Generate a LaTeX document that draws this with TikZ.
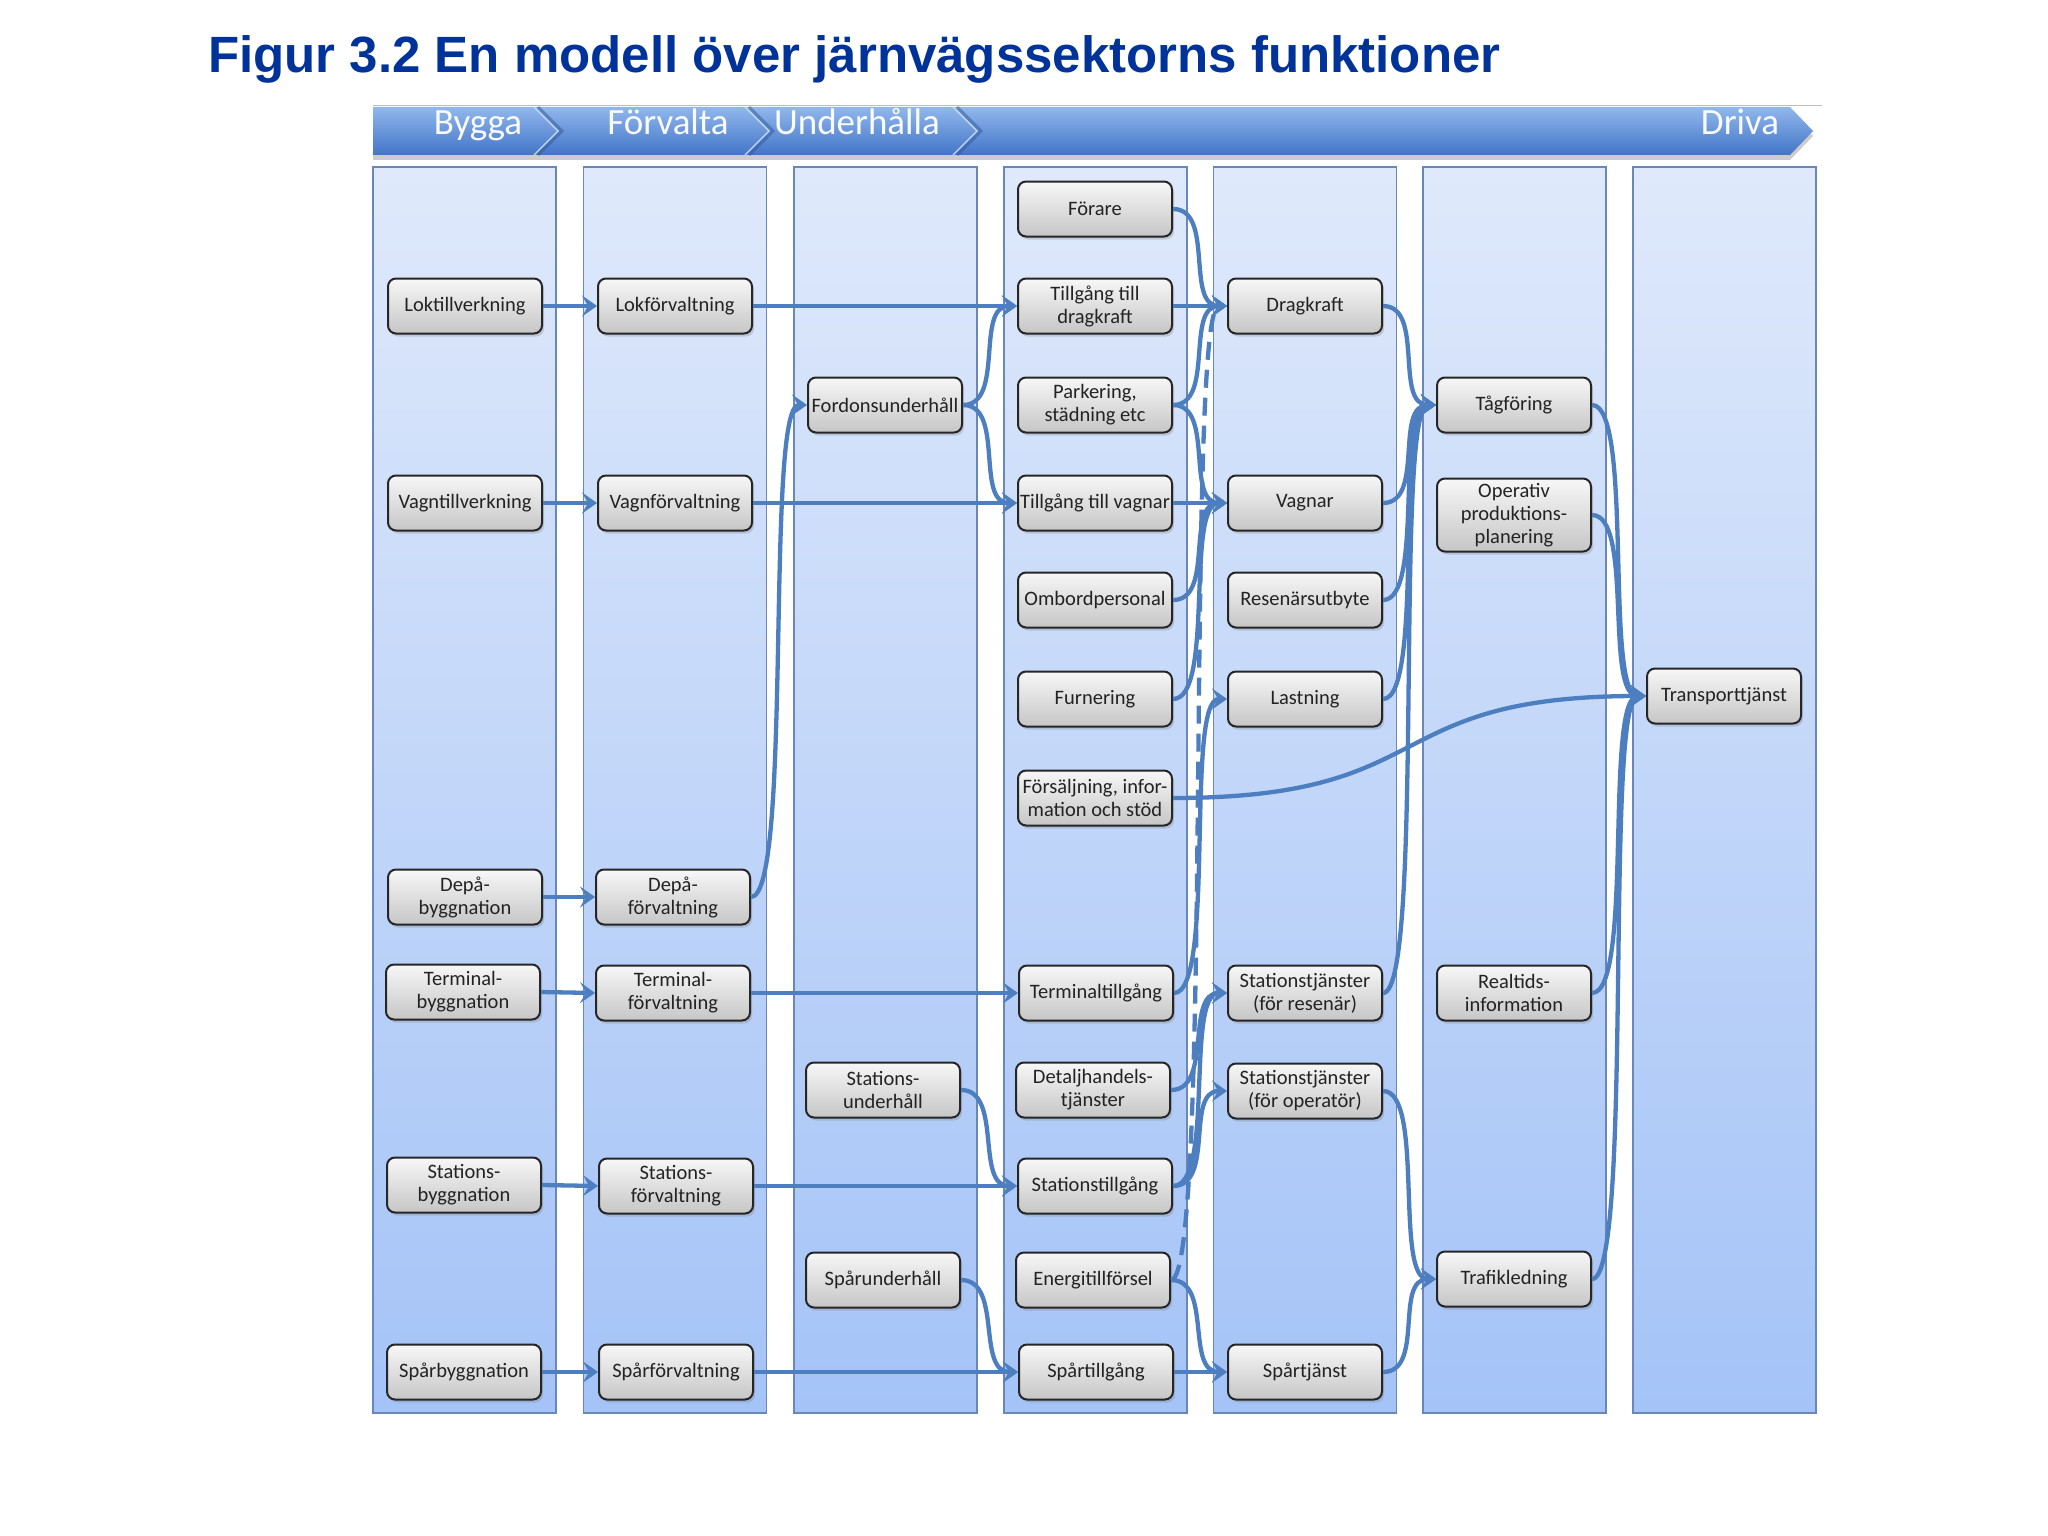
\documentclass[tikz,border=0pt]{standalone}
\usepackage{fontspec}
\setmainfont{Carlito}
\newfontfamily\titlefont{Liberation Sans}
\usetikzlibrary{arrows.meta,shadows}
\definecolor{flowblue}{RGB}{76,126,192}
\definecolor{titleblue}{RGB}{0,51,153}
\definecolor{coltop}{RGB}{223,233,251}
\definecolor{colbot}{RGB}{164,195,247}
\definecolor{colline}{RGB}{105,135,185}
\definecolor{headtop}{RGB}{145,183,236}
\definecolor{headbot}{RGB}{66,116,200}
\definecolor{boxtop}{RGB}{247,247,247}
\definecolor{boxbot}{RGB}{198,198,198}
\definecolor{boxtext}{RGB}{35,35,35}

\begin{document}
\begin{tikzpicture}[x=1pt, y=-1pt]
	\tikzstyle{every node} = [font=\fontsize{20.5}{23}\selectfont]
	\tikzstyle{box} = [rectangle, rounded corners=8pt, draw=black!85, line width=2pt, top color=boxtop, bottom color=boxbot, minimum width=154pt, minimum height=55pt, align=center, inner sep=2pt, text=boxtext, drop shadow={opacity=0.3, shadow xshift=2pt, shadow yshift=-3pt}]
	\tikzstyle{flow} = [draw=flowblue, line width=4.3pt, -{Stealth[length=15pt,width=21pt,inset=6pt]}]
	\tikzstyle{wave} = [out=0, in=180, distance=42pt]
	\tikzstyle{phase} = [text=white!95!headtop, font=\fontsize{37}{40}\selectfont, anchor=base, inner sep=0pt]
	\fill[white] (0,0) rectangle (2048,1536);
	\useasboundingbox (0,0) rectangle (2048,1536);
	\node[anchor=base west, inner sep=0pt, text=titleblue, font=\titlefont\bfseries\fontsize{51}{56}\selectfont] (title) at (208,73) {Figur 3.2 En modell över järnvägssektorns funktioner};
	\draw[black!25, line width=1pt] (373,106) -- (1822,106);
	\path[top color=headtop, bottom color=headbot, drop shadow={opacity=0.4, shadow xshift=0pt, shadow yshift=-5pt}] (373,107) -- (1790,107) -- (1813,131) -- (1790,155) -- (373,155) -- cycle;
	\foreach \x in {534,745,953} {
		\draw[headbot!75!black, line width=3pt, opacity=0.5] (\x+4,107) -- (\x+28,131) -- (\x+4,155);
		\draw[headtop!50!white, line width=1.2pt] (\x,107) -- (\x+24,131) -- (\x,155);
	}
	\node[phase] (bygga)    at (478,135)  {Bygga};
	\node[phase] (forvalta) at (668,135)  {Förvalta};
	\node[phase] (underh)   at (857,135)  {Underhålla};
	\node[phase] (driva)    at (1740,135) {Driva};
	\foreach \x in {373,583.5,794,1004,1213.5,1423,1633}
		\path[top color=coltop, bottom color=colbot, draw=colline, line width=1.2pt] (\x,167) rectangle +(183,1246);
	\node[box] (lokbygg)  at (465,306)  {Loktillverkning};
	\node[box] (vagnbygg) at (465,503)  {Vagntillverkning};
	\node[box] (depabygg) at (465,897)  {Depå-\\byggnation};
	\node[box] (termbygg) at (463,992)  {Terminal-\\byggnation};
	\node[box] (statbygg) at (464,1185) {Stations-\\byggnation};
	\node[box] (sparbygg) at (464,1372) {Spårbyggnation};
	\node[box] (lokforv)  at (675,306)  {Lokförvaltning};
	\node[box] (vagnforv) at (675,503)  {Vagnförvaltning};
	\node[box] (depaforv) at (673,897)  {Depå-\\förvaltning};
	\node[box] (termforv) at (673,993)  {Terminal-\\förvaltning};
	\node[box] (statforv) at (676,1186) {Stations-\\förvaltning};
	\node[box] (sparforv) at (676,1372) {Spårförvaltning};
	\node[box] (fordund)  at (885,405)  {Fordonsunderhåll};
	\node[box] (statund)  at (883,1090) {Stations-\\underhåll};
	\node[box] (sparund)  at (883,1280) {Spårunderhåll};
	\node[box] (forare)   at (1095,209) {Förare};
	\node[box] (tdrag)    at (1095,306) {Tillgång till\\dragkraft};
	\node[box] (park)     at (1095,405) {Parkering,\\städning etc};
	\node[box] (tvagn)    at (1095,503) {Tillgång till vagnar};
	\node[box] (ombord)   at (1095,600) {Ombordpersonal};
	\node[box] (furn)     at (1095,699) {Furnering};
	\node[box] (fors)     at (1095,798) {Försäljning, infor-\\mation och stöd};
	\node[box] (termt)    at (1096,993) {Terminaltillgång};
	\node[box] (detalj)   at (1093,1090) {Detaljhandels-\\tjänster};
	\node[box] (statt)    at (1095,1186) {Stationstillgång};
	\node[box] (energi)   at (1093,1280) {Energitillförsel};
	\node[box] (spart)    at (1096,1372) {Spårtillgång};
	\node[box] (drag)     at (1305,306) {Dragkraft};
	\node[box] (vagnar)   at (1305,503) {Vagnar};
	\node[box] (resen)    at (1305,600) {Resenärsutbyte};
	\node[box] (last)     at (1305,699) {Lastning};
	\node[box] (stres)    at (1305,993) {Stationstjänster\\(för resenär)};
	\node[box] (stop)     at (1305,1091) {Stationstjänster\\(för operatör)};
	\node[box] (spartj)   at (1305,1372) {Spårtjänst};
	\node[box] (tag)      at (1514,405) {Tågföring};
	\node[box, minimum height=73pt] (oper) at (1514,515) {Operativ\\produktions-\\planering};
	\node[box] (realt)    at (1514,993) {Realtids-\\information};
	\node[box] (trafik)   at (1514,1279) {Trafikledning};
	\node[box] (transp)   at (1724,696) {Transporttjänst};
	\draw[flow] (lokbygg.east)  -- (lokforv.west);
	\draw[flow] (vagnbygg.east) -- (vagnforv.west);
	\draw[flow] (depabygg.east) -- (depaforv.west);
	\draw[flow] (termbygg.east) -- (termforv.west);
	\draw[flow] (statbygg.east) -- (statforv.west);
	\draw[flow] (sparbygg.east) -- (sparforv.west);
	\draw[flow] (lokforv.east)  -- (tdrag.west);
	\draw[flow] (vagnforv.east) -- (tvagn.west);
	\draw[flow] (termforv.east) -- (termt.west);
	\draw[flow] (statforv.east) -- (statt.west);
	\draw[flow] (sparforv.east) -- (spart.west);
	\draw[flow] (depaforv.east) to[wave] (fordund.west);
	\draw[flow] (fordund.east)  to[wave] (tdrag.west);
	\draw[flow] (fordund.east)  to[wave] (tvagn.west);
	\draw[flow] (statund.east)  to[wave] (statt.west);
	\draw[flow] (sparund.east)  to[wave] (spart.west);
	\draw[flow, dash pattern=on 18pt off 10pt] (energi.east) to[wave] (drag.west);
	\draw[flow] (forare.east)   to[wave] (drag.west);
	\draw[flow] (tdrag.east)    -- (drag.west);
	\draw[flow] (park.east)     to[wave] (drag.west);
	\draw[flow] (park.east)     to[wave] (vagnar.west);
	\draw[flow] (tvagn.east)    -- (vagnar.west);
	\draw[flow] (ombord.east)   to[wave] (vagnar.west);
	\draw[flow] (furn.east)     to[wave] (vagnar.west);
	\draw[flow] (termt.east)    to[wave] (last.west);
	\draw[flow] (detalj.east)   to[wave] (stres.west);
	\draw[flow] (statt.east)    to[wave] (stres.west);
	\draw[flow] (statt.east)    to[wave] (stop.west);
	\draw[flow] (energi.east)   to[wave] (spartj.west);
	\draw[flow] (spart.east)    -- (spartj.west);
	\draw[flow] (drag.east)     to[wave] (tag.west);
	\draw[flow] (vagnar.east)   to[wave] (tag.west);
	\draw[flow] (resen.east)    to[wave] (tag.west);
	\draw[flow] (last.east)     to[wave] (tag.west);
	\draw[flow] (stres.east)    to[wave] (tag.west);
	\draw[flow] (stop.east)     to[wave] (trafik.west);
	\draw[flow] (spartj.east)   to[wave] (trafik.west);
	\draw[flow] (fors.east)     to[out=0, in=180, distance=270pt] (transp.west);
	\draw[flow] (tag.east)      to[wave] (transp.west);
	\draw[flow] (oper.east)     to[wave] (transp.west);
	\draw[flow] (realt.east)    to[wave] (transp.west);
	\draw[flow] (trafik.east)   to[wave] (transp.west);
\end{tikzpicture}
\end{document}
